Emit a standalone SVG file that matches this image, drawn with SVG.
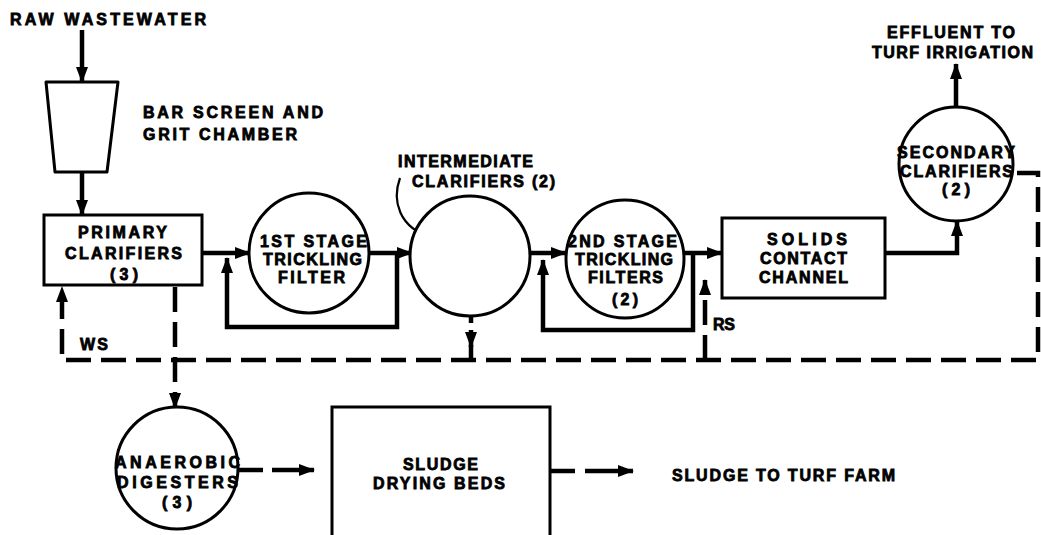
<svg xmlns="http://www.w3.org/2000/svg" width="1041" height="535" viewBox="0 0 1041 535">
<style>
.t{font-family:"Liberation Sans",Arial,sans-serif;font-weight:bold;font-size:16px;fill:#000;stroke:#000;stroke-width:0.8}
.shape{fill:#fff;stroke:#000;stroke-width:3}
.flow{fill:none;stroke:#000;stroke-width:4.5;stroke-linejoin:miter}
.dash{fill:none;stroke:#000;stroke-width:4.5;stroke-dasharray:25 10}
.thin{fill:none;stroke:#000;stroke-width:2.2}
</style>
<defs>
<marker id="ah" markerUnits="userSpaceOnUse" markerWidth="16" markerHeight="12" refX="15" refY="6" orient="auto">
<path d="M0,0 L16,6 L0,12 Z" fill="#000"/>
</marker>
<marker id="ahs" markerUnits="userSpaceOnUse" markerWidth="12" markerHeight="10" refX="11" refY="5" orient="auto">
<path d="M0,0 L12,5 L0,10 Z" fill="#000"/>
</marker>
</defs>
<rect width="1041" height="535" fill="#fff"/>

<g id="connectors">
<line class="flow" x1="82" y1="30" x2="82" y2="82" marker-end="url(#ah)"/>
<line class="flow" x1="82" y1="172" x2="82" y2="215" marker-end="url(#ah)"/>
<line class="flow" x1="202" y1="253" x2="250" y2="253" marker-end="url(#ah)"/>
<path class="flow" d="M397,253 V327 H227 V258" marker-end="url(#ah)"/>
<line class="flow" x1="370" y1="253" x2="412" y2="253" marker-end="url(#ah)"/>
<line class="flow" x1="530" y1="253" x2="566" y2="253" marker-end="url(#ah)"/>
<path class="flow" d="M693,253 V330 H543 V260" marker-end="url(#ah)"/>
<line class="flow" x1="684" y1="253" x2="722" y2="253" marker-end="url(#ah)"/>
<path class="flow" d="M885,253 H957 V221" marker-end="url(#ah)"/>
<line class="flow" x1="956" y1="107" x2="956" y2="64" marker-end="url(#ah)"/>
<path class="dash" d="M1017,173 H1038 V360 H62 V287" marker-end="url(#ah)"/>
<path class="dash" d="M705,360 V280" marker-end="url(#ah)"/>
<line class="flow" x1="471" y1="316" x2="471" y2="323"/>
<line class="flow" x1="471" y1="330" x2="471" y2="347" marker-end="url(#ah)"/>
<line class="flow" x1="471" y1="345" x2="471" y2="358"/>
<path class="dash" d="M175,287 V408" marker-end="url(#ah)"/>
<line class="flow" x1="239" y1="470" x2="263" y2="470"/>
<line class="flow" x1="272" y1="470" x2="314" y2="470" marker-end="url(#ah)"/>
<line class="flow" x1="550" y1="471" x2="575" y2="471"/>
<line class="flow" x1="585" y1="471" x2="633" y2="471" marker-end="url(#ah)"/>
<path class="thin" d="M400,178 C392,200 398,228 433,238" marker-end="url(#ahs)"/>
</g>

<g id="raw-wastewater">
<text class="t" x="10" y="25" textLength="196" lengthAdjust="spacing">RAW WASTEWATER</text>
</g>

<g id="bar-screen">
<path class="shape" d="M46,82 L118,82 L107,172 L55,172 Z" stroke-linejoin="round"/>
<text class="t" x="143" y="118" textLength="180" lengthAdjust="spacing">BAR SCREEN AND</text>
<text class="t" x="143" y="140" textLength="154" lengthAdjust="spacing">GRIT CHAMBER</text>
</g>

<g id="primary-clarifiers">
<rect class="shape" x="44" y="215" width="158" height="70"/>
<text class="t" x="78" y="238" textLength="89" lengthAdjust="spacing">PRIMARY</text>
<text class="t" x="65" y="259" textLength="117" lengthAdjust="spacing">CLARIFIERS</text>
<text class="t" x="110" y="280" textLength="28" lengthAdjust="spacing">(3)</text>
</g>

<g id="first-stage-filter">
<circle class="shape" cx="309" cy="253" r="60"/>
<text class="t" x="260" y="247" textLength="107" lengthAdjust="spacing">1ST STAGE</text>
<text class="t" x="263" y="265" textLength="99" lengthAdjust="spacing">TRICKLING</text>
<text class="t" x="278" y="283" textLength="67" lengthAdjust="spacing">FILTER</text>
</g>

<g id="intermediate-clarifiers">
<circle class="shape" cx="470" cy="256" r="60"/>
<text class="t" x="398" y="167" textLength="135" lengthAdjust="spacing">INTERMEDIATE</text>
<text class="t" x="412" y="187" textLength="143" lengthAdjust="spacing">CLARIFIERS (2)</text>
</g>

<g id="second-stage-filters">
<circle class="shape" cx="625" cy="259" r="59"/>
<text class="t" x="568" y="247" textLength="109" lengthAdjust="spacing">2ND STAGE</text>
<text class="t" x="575" y="265" textLength="98" lengthAdjust="spacing">TRICKLING</text>
<text class="t" x="588" y="283" textLength="75" lengthAdjust="spacing">FILTERS</text>
<text class="t" x="612" y="305" textLength="26" lengthAdjust="spacing">(2)</text>
</g>

<g id="solids-contact-channel">
<rect class="shape" x="722" y="218" width="163" height="80"/>
<text class="t" x="767" y="245" textLength="80" lengthAdjust="spacing">SOLIDS</text>
<text class="t" x="760" y="264" textLength="87" lengthAdjust="spacing">CONTACT</text>
<text class="t" x="759" y="283" textLength="89" lengthAdjust="spacing">CHANNEL</text>
</g>

<g id="secondary-clarifiers">
<circle class="shape" cx="956" cy="164" r="57"/>
<text class="t" x="897" y="158" textLength="118" lengthAdjust="spacing">SECONDARY</text>
<text class="t" x="900" y="177" textLength="113" lengthAdjust="spacing">CLARIFIERS</text>
<text class="t" x="942" y="195" textLength="28" lengthAdjust="spacing">(2)</text>
</g>

<g id="effluent">
<text class="t" x="887" y="38" textLength="128" lengthAdjust="spacing">EFFLUENT TO</text>
<text class="t" x="872" y="58" textLength="161" lengthAdjust="spacing">TURF IRRIGATION</text>
</g>

<g id="labels-ws-rs">
<text class="t" x="80" y="350" textLength="28" lengthAdjust="spacing">WS</text>
<text class="t" x="713" y="330" textLength="22" lengthAdjust="spacing">RS</text>
</g>

<g id="anaerobic-digesters">
<circle class="shape" cx="177" cy="468" r="61"/>
<text class="t" x="115" y="468" textLength="125" lengthAdjust="spacing">ANAEROBIC</text>
<text class="t" x="117" y="488" textLength="121" lengthAdjust="spacing">DIGESTERS</text>
<text class="t" x="162" y="508" textLength="30" lengthAdjust="spacing">(3)</text>
</g>

<g id="sludge-drying-beds">
<rect class="shape" x="332" y="407" width="218" height="140"/>
<text class="t" x="403" y="470" textLength="75" lengthAdjust="spacing">SLUDGE</text>
<text class="t" x="373" y="489" textLength="132" lengthAdjust="spacing">DRYING BEDS</text>
</g>

<g id="sludge-to-turf-farm">
<text class="t" x="672" y="481" textLength="223" lengthAdjust="spacing">SLUDGE TO TURF FARM</text>
</g>
</svg>
